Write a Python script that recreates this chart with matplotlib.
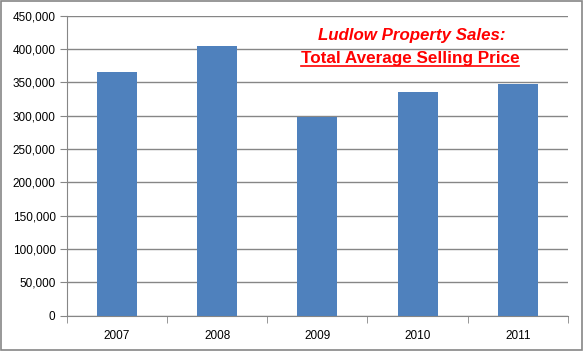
import matplotlib.pyplot as plt
from matplotlib.patches import Rectangle
from matplotlib.lines import Line2D
from matplotlib.ticker import FuncFormatter

# data
years = ['2007', '2008', '2009', '2010', '2011']
avg_price = [366000, 405000, 298000, 336000, 348000]
title_line1 = 'Ludlow Property Sales:'
title_line2 = 'Total Average Selling Price'

plt.rcParams['font.family'] = ['Liberation Sans', 'DejaVu Sans']

fig = plt.figure(figsize=(5.84, 3.51), dpi=100)
ax = fig.add_axes([0.1142, 0.1006, 0.8584, 0.8547])

x = range(len(years))
ax.bar(x, avg_price, width=0.4, color='#4F81BD', zorder=3)

ax.set_xlim(-0.5, len(years) - 0.5)
ax.set_ylim(0, 450000)
ax.set_yticks(range(0, 450001, 50000))
ax.yaxis.set_major_formatter(FuncFormatter(lambda v, p: f'{int(v):,}'))
ax.set_xticks(list(x))
ax.set_xticklabels(years)
ax.set_xticks([i - 0.5 for i in range(len(years) + 1)], minor=True)

ax.grid(axis='y', color='#868686', linewidth=1, zorder=0)
ax.tick_params(axis='y', length=5, color='#868686', labelsize=8.5, pad=3)
ax.tick_params(axis='x', which='major', length=0, labelsize=8.5, pad=10)
ax.tick_params(axis='x', which='minor', length=5, color='#868686')

for side in ['top', 'right']:
    ax.spines[side].set_visible(False)
for side in ['left', 'bottom']:
    ax.spines[side].set_color('#868686')

# title in red, second line underlined
fig.text(0.705, 0.90, title_line1, color='red', fontsize=12.2,
         fontweight='bold', fontstyle='italic', ha='center', va='center')
t2 = fig.text(0.702, 0.832, title_line2, color='red', fontsize=12.3,
              fontweight='bold', ha='center', va='center')

fig.canvas.draw()
bb = t2.get_window_extent().transformed(fig.transFigure.inverted())
fig.add_artist(Line2D([bb.x0, bb.x1], [bb.y0 + 0.002, bb.y0 + 0.002],
                      color='red', linewidth=1.2, transform=fig.transFigure))

# outer chart border
fig.add_artist(Rectangle((0.002, 0.003), 0.995, 0.993, fill=False,
                         edgecolor='#868686', linewidth=1.2,
                         transform=fig.transFigure))

fig.savefig('out.png', dpi=100)
